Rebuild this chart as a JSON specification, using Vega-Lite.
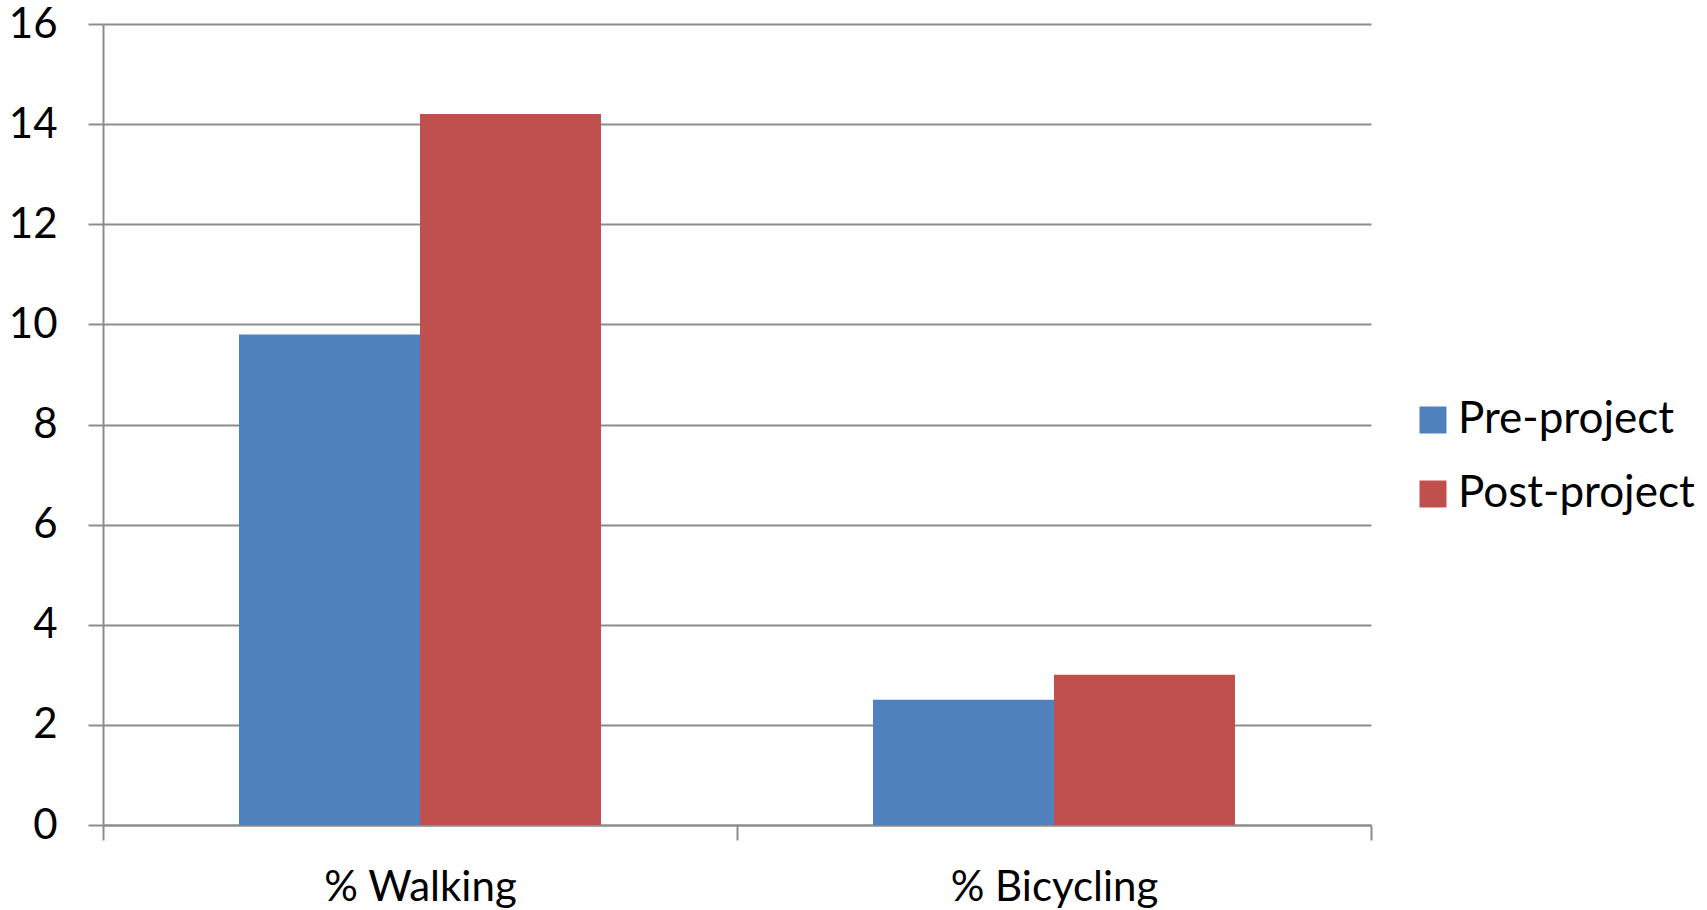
{
  "$schema": "https://vega.github.io/schema/vega-lite/v6.json",
  "width": 1268,
  "height": 801,
  "autosize": {"type": "none"},
  "padding": {"left": 103, "top": 24, "right": 336, "bottom": 85},
  "background": "white",
  "config": {
    "view": {"stroke": null},
    "font": "Lato",
    "axis": {"labelColor": "#000000", "labelFont": "Lato", "titleFont": "Lato"},
    "legend": {"labelFont": "Lato"}
  },
  "data": {
    "values": [
      {"mode": "% Walking", "phase": "Pre-project", "value": 9.8},
      {"mode": "% Walking", "phase": "Post-project", "value": 14.2},
      {"mode": "% Bicycling", "phase": "Pre-project", "value": 2.5},
      {"mode": "% Bicycling", "phase": "Post-project", "value": 3.0}
    ]
  },
  "mark": {"type": "bar"},
  "encoding": {
    "x": {
      "field": "mode",
      "type": "nominal",
      "sort": ["% Walking", "% Bicycling"],
      "scale": {"paddingInner": 0, "paddingOuter": 0},
      "axis": {
        "title": null,
        "labelAngle": 0,
        "labelLimit": 0,
        "tickBand": "extent",
        "ticks": true,
        "tickSize": 15,
        "tickWidth": 2,
        "tickColor": "#8c8c8c",
        "domainColor": "#8c8c8c",
        "domainWidth": 2,
        "labelFontSize": 42,
        "labelBaseline": "alphabetic",
        "labelPadding": 60,
        "grid": false
      }
    },
    "xOffset": {
      "field": "phase",
      "type": "nominal",
      "sort": ["Pre-project", "Post-project"],
      "scale": {"paddingInner": 0, "paddingOuter": 0.7515}
    },
    "y": {
      "field": "value",
      "type": "quantitative",
      "scale": {"domain": [0, 16], "nice": false},
      "axis": {
        "title": null,
        "values": [0, 2, 4, 6, 8, 10, 12, 14, 16],
        "grid": true,
        "gridColor": "#8c8c8c",
        "gridWidth": 2,
        "tickSize": 15,
        "tickWidth": 2,
        "tickColor": "#8c8c8c",
        "domainColor": "#8c8c8c",
        "domainWidth": 2,
        "labelFontSize": 42,
        "labelPadding": 31
      }
    },
    "color": {
      "field": "phase",
      "type": "nominal",
      "sort": ["Pre-project", "Post-project"],
      "scale": {"domain": ["Pre-project", "Post-project"], "range": ["#4f81bd", "#c0504d"]},
      "legend": {
        "title": null,
        "orient": "none",
        "legendX": 1308,
        "legendY": 374,
        "symbolType": "square",
        "symbolSize": 729,
        "symbolStrokeWidth": 0,
        "symbolOpacity": 1,
        "labelFontSize": 44,
        "labelLimit": 0,
        "labelColor": "#000000",
        "labelOffset": 3,
        "rowPadding": 30
      }
    }
  }
}
